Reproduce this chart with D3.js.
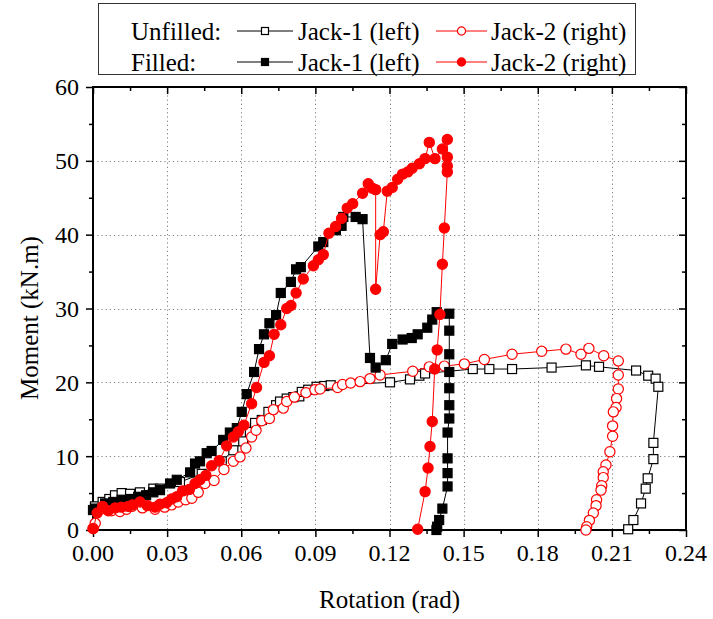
<!DOCTYPE html>
<html>
<head>
<meta charset="utf-8">
<script src="https://cdn.jsdelivr.net/npm/d3@7"></script>
<style>
  body { margin: 0; background: #fff; }
  svg text { font-family: "Liberation Serif", "Times New Roman", serif; fill: #000; }
</style>
</head>
<body>
<svg id="chart" width="713" height="619"></svg>
<script>
// [rotation (rad), moment (kN.m)]
const unfilledJack1 = [[0.0008,3.2],[0.0039,3.8],[0.0066,4.2],[0.0089,4.7],[0.0116,5.0],[0.0150,4.9],[0.0190,5.1],[0.0244,5.6],[0.0271,5.6],[0.0352,6.5],[0.0440,7.6],[0.0521,9.3],[0.0568,10.8],[0.0608,12.0],[0.0635,13.3],[0.0656,14.5],[0.0683,14.9],[0.0710,16.0],[0.0741,16.9],[0.0757,17.4],[0.0784,17.8],[0.0811,18.0],[0.0835,18.1],[0.0845,18.7],[0.0871,19.0],[0.0905,19.4],[0.0936,19.5],[0.0962,19.6],[0.1202,20.0],[0.1283,20.4],[0.1321,20.9],[0.1344,21.2],[0.1537,21.8],[0.1604,21.8],[0.1696,21.8],[0.1856,22.0],[0.1995,22.3],[0.2048,22.1],[0.2198,21.6],[0.2247,20.9],[0.2277,20.5],[0.2288,19.4],[0.2268,11.8],[0.2268,9.6],[0.2245,7.0],[0.2237,5.6],[0.2218,3.6],[0.2187,1.35],[0.2166,0.1]];
const unfilledJack2 = [[0.0000,0.2],[0.0009,0.9],[0.0040,2.9],[0.0075,2.6],[0.0109,2.5],[0.0136,2.8],[0.0157,3.2],[0.0200,3.0],[0.0251,2.8],[0.0290,3.1],[0.0318,3.4],[0.0345,3.8],[0.0375,4.1],[0.0400,4.3],[0.0426,5.1],[0.0453,6.3],[0.0490,6.7],[0.0530,8.2],[0.0568,9.3],[0.0595,9.9],[0.0619,11.1],[0.0642,12.6],[0.0660,13.5],[0.0683,14.8],[0.0714,15.1],[0.0730,16.3],[0.0770,16.5],[0.0784,17.4],[0.0815,18.0],[0.0862,18.6],[0.0898,19.0],[0.0919,19.1],[0.0990,19.3],[0.1010,19.7],[0.1043,19.9],[0.1081,20.1],[0.1121,20.5],[0.1162,21.0],[0.1294,21.5],[0.1361,22.1],[0.1422,22.2],[0.1503,22.5],[0.1584,23.1],[0.1696,23.8],[0.1816,24.2],[0.1914,24.5],[0.1975,23.8],[0.2007,24.6],[0.2067,23.6],[0.2126,22.9],[0.2126,21.0],[0.2126,19.1],[0.2119,17.8],[0.2117,16.6],[0.2106,16.0],[0.2103,14.1],[0.2103,12.7],[0.2092,10.6],[0.2076,8.8],[0.2065,7.9],[0.2065,7.1],[0.2059,6.0],[0.2056,5.4],[0.2038,4.1],[0.2036,3.3],[0.2025,2.3],[0.2009,1.3],[0.1998,0.45],[0.1995,0.0]];
const filledJack1 = [[0.0000,2.7],[0.0008,2.9],[0.0049,3.6],[0.0082,3.8],[0.0116,4.1],[0.0150,4.2],[0.0183,4.5],[0.0215,4.7],[0.0244,5.1],[0.0271,5.4],[0.0312,6.3],[0.0339,6.8],[0.0393,7.8],[0.0413,9.0],[0.0433,9.3],[0.0460,10.4],[0.0480,10.7],[0.0527,12.2],[0.0554,13.2],[0.0582,13.8],[0.0602,16.0],[0.0622,18.4],[0.0652,21.4],[0.0672,24.5],[0.0692,26.5],[0.0714,28.0],[0.0741,29.1],[0.0760,32.1],[0.0801,33.6],[0.0822,35.3],[0.0841,35.6],[0.0912,38.4],[0.0932,39.0],[0.0983,40.6],[0.1006,41.2],[0.1013,42.4],[0.1063,42.4],[0.1091,42.1],[0.1121,23.3],[0.1144,22.0],[0.1185,23.0],[0.1211,25.2],[0.1253,25.8],[0.1290,26.0],[0.1314,26.5],[0.1353,27.4],[0.1373,28.5],[0.1391,29.5],[0.1442,29.3],[0.1442,27.0],[0.1442,23.8],[0.1442,21.4],[0.1442,19.2],[0.1442,16.9],[0.1442,15.1],[0.1435,13.2],[0.1435,9.7],[0.1435,7.7],[0.1435,5.9],[0.1414,2.9],[0.1401,1.35],[0.1393,0.45],[0.1390,0.0]];
const filledJack2 = [[0.0001,0.2],[0.0017,2.3],[0.0039,3.2],[0.0062,2.6],[0.0090,3.0],[0.0115,3.1],[0.0143,3.2],[0.0160,3.4],[0.0190,3.8],[0.0220,3.3],[0.0251,3.1],[0.0271,3.5],[0.0298,3.7],[0.0318,4.2],[0.0339,4.5],[0.0363,5.3],[0.0390,5.5],[0.0413,6.3],[0.0433,6.8],[0.0457,7.4],[0.0480,8.7],[0.0511,9.4],[0.0541,11.4],[0.0568,12.6],[0.0588,13.3],[0.0611,14.2],[0.0642,17.1],[0.0662,19.3],[0.0692,22.7],[0.0714,23.6],[0.0733,26.5],[0.0760,27.8],[0.0784,30.0],[0.0801,30.4],[0.0822,32.1],[0.0851,34.0],[0.0892,35.8],[0.0912,36.6],[0.0932,37.3],[0.0955,40.2],[0.0982,41.1],[0.1006,42.2],[0.1029,43.6],[0.1051,44.2],[0.1091,45.6],[0.1114,46.9],[0.1130,46.3],[0.1144,46.1],[0.1144,32.6],[0.1162,40.0],[0.1175,40.4],[0.1191,45.9],[0.1211,46.4],[0.1233,47.5],[0.1253,48.2],[0.1274,48.5],[0.1292,49.0],[0.1321,49.6],[0.1344,50.3],[0.1361,52.5],[0.1384,50.3],[0.1414,51.6],[0.1434,52.9],[0.1434,50.5],[0.1434,49.3],[0.1434,48.5],[0.1422,40.9],[0.1414,36.0],[0.1404,29.2],[0.1393,24.4],[0.1383,21.8],[0.1373,14.7],[0.1364,11.3],[0.1356,8.4],[0.1344,5.2],[0.1314,0.1]];

const xTicks = [0, 0.03, 0.06, 0.09, 0.12, 0.15, 0.18, 0.21, 0.24];
const yTicks = [0, 10, 20, 30, 40, 50, 60];

const series = [
  { name: "unfilledJack1", data: unfilledJack1, color: "#000", shape: "square", filled: false },
  { name: "unfilledJack2", data: unfilledJack2, color: "#ff0000", shape: "circle", filled: false },
  { name: "filledJack1", data: filledJack1, color: "#000", shape: "square", filled: true },
  { name: "filledJack2", data: filledJack2, color: "#ff0000", shape: "circle", filled: true }
];

const svg = d3.select("svg#chart");
const pL = 93, pR = 686, pT = 87, pB = 530;
const fontSize = "25px";

const x = d3.scaleLinear().domain([0, 0.24]).range([pL, pR]);
const y = d3.scaleLinear().domain([0, 60]).range([pB, pT]);

// grid
const grid = svg.append("g").attr("stroke", "#808080").attr("stroke-width", 1).attr("stroke-dasharray", "1.2,3");
grid.selectAll("line.gx").data(xTicks.slice(1, -1)).join("line")
  .attr("x1", d => Math.round(x(d)) + 0.5).attr("x2", d => Math.round(x(d)) + 0.5)
  .attr("y1", pT).attr("y2", pB);
grid.selectAll("line.gy").data(yTicks.slice(1, -1)).join("line")
  .attr("y1", d => Math.round(y(d)) + 0.5).attr("y2", d => Math.round(y(d)) + 0.5)
  .attr("x1", pL).attr("x2", pR);

// axes
const minorX = d3.range(0, 0.2401, 0.015);
const minorY = d3.range(0, 60.1, 5);
const fmtX = d3.format(".2f");
const isMajorX = d => xTicks.some(t => Math.abs(t - d) < 1e-6);

const xAxis = svg.append("g").attr("transform", `translate(0,${pB})`)
  .call(d3.axisBottom(x).tickValues(minorX).tickSize(4).tickFormat(""));
xAxis.selectAll(".tick line").filter(isMajorX).attr("y2", 7);
xAxis.append("g").selectAll("text").data(xTicks).join("text")
  .attr("x", d => x(d)).attr("y", 31).attr("text-anchor", "middle")
  .style("font-size", "24px").text(d => fmtX(d));

const yAxis = svg.append("g").attr("transform", `translate(${pL},0)`)
  .call(d3.axisLeft(y).tickValues(minorY).tickSize(4).tickFormat(""));
yAxis.selectAll(".tick line").filter(d => d % 10 === 0).attr("x2", -7);
yAxis.append("g").selectAll("text").data(yTicks).join("text")
  .attr("x", -14).attr("y", d => y(d)).attr("dy", "0.35em").attr("text-anchor", "end")
  .style("font-size", "24px").text(d => d);

// top and right ticks point into the plot
const xTop = svg.append("g").attr("transform", `translate(0,${pT})`)
  .call(d3.axisBottom(x).tickValues(minorX).tickSize(4).tickFormat(""));
xTop.selectAll(".tick line").filter(isMajorX).attr("y2", 7);
const yRight = svg.append("g").attr("transform", `translate(${pR},0)`)
  .call(d3.axisLeft(y).tickValues(minorY).tickSize(4).tickFormat(""));
yRight.selectAll(".tick line").filter(d => d % 10 === 0).attr("x2", -7);

[xAxis, yAxis, xTop, yRight].forEach(g => {
  g.select(".domain").remove();
  g.selectAll(".tick line").attr("stroke", "#000").attr("stroke-width", 1.5);
});
svg.append("rect").attr("x", pL).attr("y", pT).attr("width", pR - pL).attr("height", pB - pT)
  .attr("fill", "none").attr("stroke", "#000").attr("stroke-width", 2);

// series
const line = d3.line().x(d => x(d[0])).y(d => y(d[1]));
function drawMarker(sel, s, size) {
  if (s.shape === "square") {
    sel.append("rect").attr("x", -size / 2).attr("y", -size / 2).attr("width", size).attr("height", size)
      .attr("fill", s.filled ? s.color : "#fff").attr("stroke", s.color).attr("stroke-width", 1.2);
  } else {
    sel.append("circle").attr("r", size / 2 + 0.6)
      .attr("fill", s.filled ? s.color : "#fff").attr("stroke", s.color).attr("stroke-width", 1.2);
  }
}
series.forEach(s => {
  const g = svg.append("g").attr("class", s.name);
  g.append("path").datum(s.data).attr("d", line).attr("fill", "none")
    .attr("stroke", s.color).attr("stroke-width", 1);
  g.selectAll("g.pt").data(s.data).join("g").attr("class", "pt")
    .attr("transform", d => `translate(${x(d[0])},${y(d[1])})`)
    .each(function () { drawMarker(d3.select(this), s, 9); });
});

// legend
const legend = svg.append("g");
legend.append("rect").attr("x", 98.5).attr("y", 3.5).attr("width", 537).attr("height", 71)
  .attr("fill", "#fff").attr("stroke", "#333").attr("stroke-width", 1);
const rows = [
  { label: "Unfilled:", y: 31, items: [series[0], series[1]] },
  { label: "Filled:", y: 62, items: [series[2], series[3]] }
];
const itemX = [{ x1: 237, x2: 293, tx: 298, text: "Jack-1 (left)" }, { x1: 436, x2: 487, tx: 491, text: "Jack-2 (right)" }];
rows.forEach(r => {
  legend.append("text").attr("x", 131).attr("y", r.y).attr("dy", "0.35em")
    .style("font-size", fontSize).text(r.label);
  r.items.forEach((s, i) => {
    const p = itemX[i];
    legend.append("line").attr("x1", p.x1).attr("x2", p.x2).attr("y1", r.y).attr("y2", r.y)
      .attr("stroke", s.color).attr("stroke-width", 1);
    const m = legend.append("g").attr("transform", `translate(${(p.x1 + p.x2) / 2},${r.y})`);
    drawMarker(m, s, 7);
    legend.append("text").attr("x", p.tx).attr("y", r.y).attr("dy", "0.35em")
      .style("font-size", fontSize).text(p.text);
  });
});

// axis titles
svg.append("text").attr("x", (pL + pR) / 2).attr("y", 608).attr("text-anchor", "middle")
  .style("font-size", fontSize).text("Rotation (rad)");
svg.append("text").attr("transform", `translate(38,318) rotate(-90)`)
  .attr("text-anchor", "middle").style("font-size", fontSize).text("Moment (kN.m)");
</script>
</body>
</html>
